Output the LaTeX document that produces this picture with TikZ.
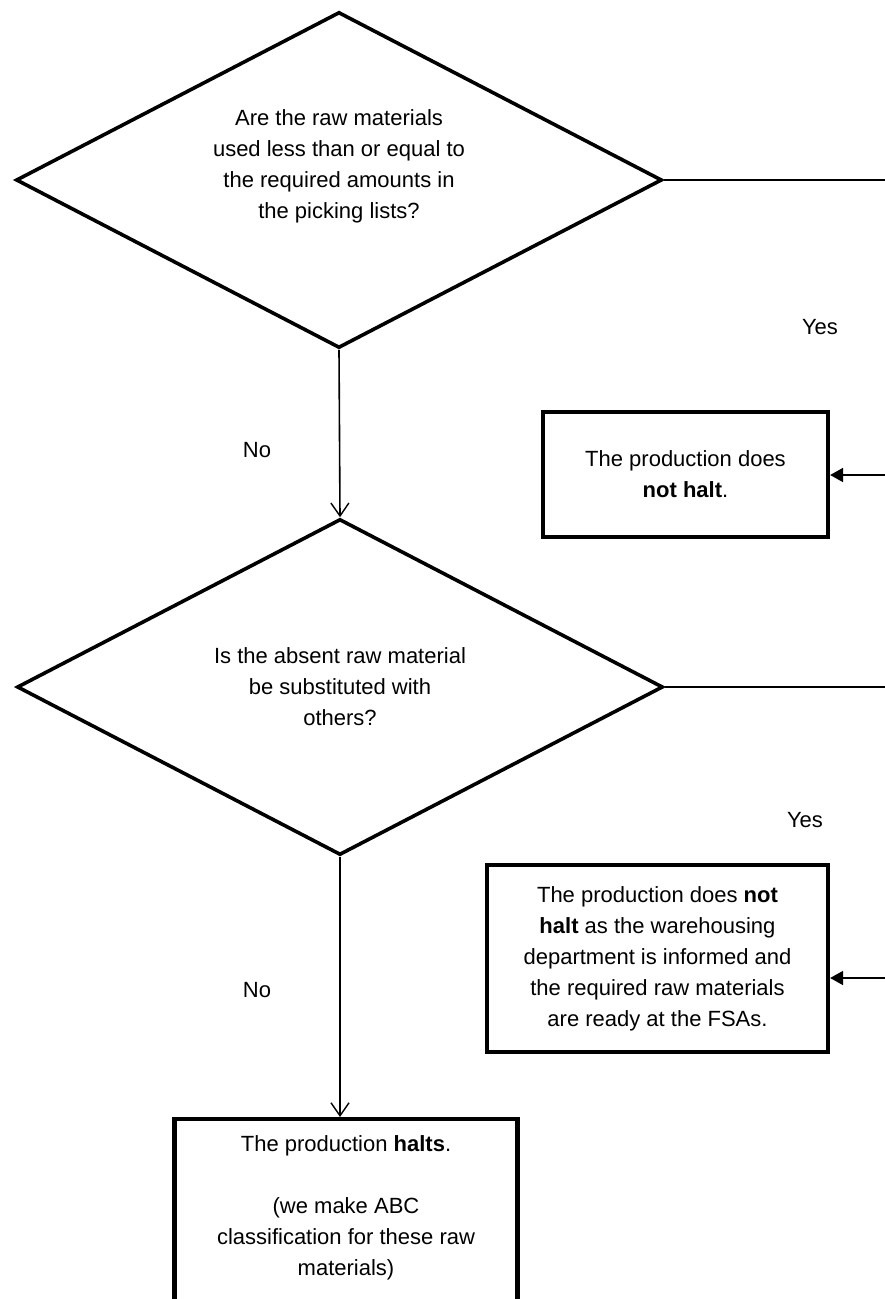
\documentclass[tikz,border=0pt]{standalone}
\usepackage{fontspec}
\setmainfont{Liberation Sans}
\usetikzlibrary{shapes.geometric, arrows.meta, positioning}

\begin{document}
\begin{tikzpicture}[
    x=1pt, y=-1pt,
    decision/.style={diamond, draw=black, line width=3.6pt,
                  minimum width=646pt, minimum height=336pt,
                  inner sep=0pt},
    question/.style={align=center, inner sep=0pt,
                  font=\fontsize{22}{31}\selectfont},
    outcome/.style ={rectangle, draw=black, line width=4.2pt,
                  align=center, inner sep=0pt,
                  font=\fontsize{22}{31}\selectfont},
    lbl/.style     ={font=\fontsize{22}{31}\selectfont},
    link/.style    ={line width=1.8pt},
    arrowno/.style ={-{Straight Barb[length=13pt,width=18pt,line width=1.4pt]}, line width=1.6pt},
    arrowyes/.style={-{Triangle[length=13pt,width=14pt]}, line width=1.8pt}
]

\clip (0,0) rectangle (885,1299);

% ============================================================
% DECISIONS
% ============================================================

\node[decision] (q1)  at (339,180) {};
\node[question] (q1t) at (339,166) {Are the raw materials\\used less than or equal to\\the required amounts in\\the picking lists?};

\node[decision] (q2)  at (340,687) {};
\node[question] (q2t) at (340,687) {Is the absent raw material\\be substituted with\\others?};

% ============================================================
% RESULTATS
% ============================================================

\node[outcome, minimum width=285pt, minimum height=125pt] (r1) at (685.5,474.5)
    {The production does\\\textbf{not halt}.};

\node[outcome, minimum width=341pt, minimum height=187pt] (r2) at (657.5,958.5)
    {The production does \textbf{not}\\\textbf{halt} as the warehousing\\department is informed and\\the required raw materials\\are ready at the FSAs.};

\node[outcome, minimum width=343pt, minimum height=260pt, anchor=north] (r3) at (346,1117) {};
\node[lbl, anchor=north, align=center] (r3t) at (346,1132)
    {The production \textbf{halts}.\\[31pt](we make ABC\\classification for these raw\\materials)};

% -- etiquettes --
\node[lbl] (yes1) at (820,327) {Yes};
\node[lbl] (no1)  at (257,450) {No};
\node[lbl] (yes2) at (805,820) {Yes};
\node[lbl] (no2)  at (257,990) {No};

% -- bords droits (hors cadre) --
\coordinate (out1) at (900,180);
\coordinate (in1)  at (900,475);
\coordinate (out2) at (900,687);
\coordinate (in2)  at (900,978);

% ============================================================
% FLECHES
% ============================================================

\draw[link]     (q1.east) -- (out1);
\draw[link]     (q2.east) -- (out2);
\draw[arrowyes] (in1) -- (in1 -| r1.east);
\draw[arrowyes] (in2) -- (in2 -| r2.east);

\draw[arrowno]  (q1.south) -- (q2.north);
\draw[arrowno]  (q2.south) -- (q2.south |- r3.north);

\end{tikzpicture}
\end{document}
